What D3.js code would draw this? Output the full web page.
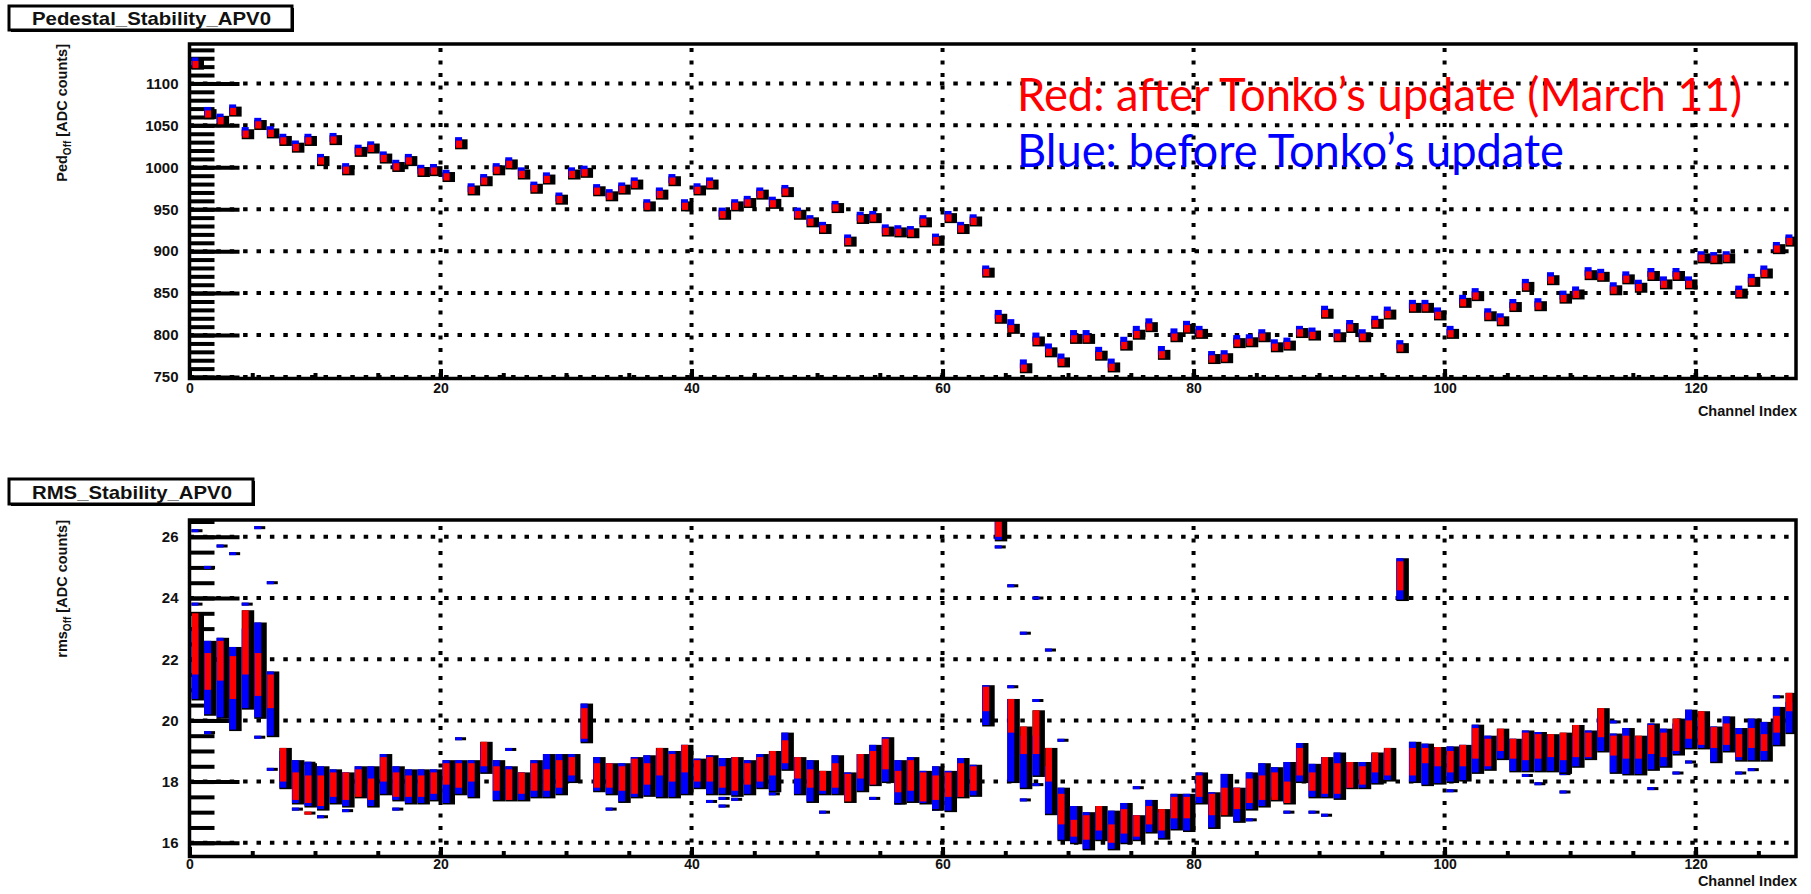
<!DOCTYPE html>
<html><head><meta charset="utf-8">
<script src="https://cdn.jsdelivr.net/npm/d3@7/dist/d3.min.js"></script>
<style>body{margin:0;background:#fff}svg{display:block}</style>
</head><body>
<svg id="c" width="1811" height="894"></svg>
<script>
// ---------------- DATA ----------------
const nChannels = 128;
const xTickValues = [0, 20, 40, 60, 80, 100, 120];
const pedTickValues = [750, 800, 850, 900, 950, 1000, 1050, 1100];
const rmsTickValues = [16, 18, 20, 22, 24, 26];

// Pedestal (after update, red) per channel 0..127
const pedAfter = [1123,1064,1056,1067,1040,1051,1041,1032,1024,1032,1008,1033,997,1019,1023,1011,1001,1008,995,996,
  989,1028,973,984,997,1004,992,975,986,962,992,994,972,966,974,980,954,968,984,954,
  973,980,944,954,958,968,957,971,944,935,927,952,912,939,940,924,923,922,935,913,
  940,927,936,875,820,808,761,793,780,768,796,796,776,762,788,801,810,777,798,808,
  802,772,773,791,792,798,786,788,803,800,826,798,809,798,814,825,785,833,833,824,
  802,839,847,823,817,834,858,835,866,844,849,872,870,854,867,857,871,861,871,861,
  892,891,892,850,864,874,903,912];
// Pedestal (before update, blue) per channel
const pedBefore = [1125,1066,1058,1069,1042,1053,1043,1034,1026,1034,1010,1035,999,1021,1025,1013,1003,1010,997,998,
  991,1030,975,986,999,1006,994,977,988,964,994,996,974,968,976,982,956,970,986,956,
  975,982,946,956,960,970,959,973,946,937,929,954,914,941,942,926,925,924,937,915,
  942,929,938,877,824,813,765,797,784,772,800,800,780,766,792,805,814,781,802,811,
  805,775,776,794,795,801,789,791,805,803,829,801,812,801,817,828,788,836,836,827,
  805,842,850,826,820,837,861,838,869,847,852,875,873,857,870,860,874,864,874,864,
  894,893,894,853,867,877,905,914];

// RMS ranges per channel (red = after, blue = before)
const rmsAfterLo  = [21.5,21.0,21.3,20.7,21.5,20.8,20.4,18.0,17.4,17.3,17.2,17.5,17.4,17.5,17.4,18.0,17.5,17.5,17.5,17.6,
  17.9,17.8,18.0,18.5,17.7,17.4,17.6,17.7,17.7,17.8,18.2,19.4,17.8,17.8,17.7,17.6,17.9,18.2,18.0,18.3,
  18.0,18.0,17.8,17.7,17.9,18.0,18.2,18.6,18.1,17.8,17.7,17.8,17.35,18.1,17.9,18.4,17.65,17.7,17.35,17.4,
  17.5,17.5,17.7,20.3,26.0,19.6,18.9,18.9,18.0,16.6,16.2,16.1,16.4,16.0,16.3,16.2,16.6,16.4,16.8,16.8,
  17.5,16.9,16.9,17.1,17.3,17.4,17.4,17.3,18.2,17.7,17.6,17.6,17.8,17.9,18.3,18.2,24.25,18.2,18.6,18.5,
  18.3,18.5,18.75,18.5,19.0,18.75,18.7,18.75,18.8,18.7,18.8,18.8,19.45,18.85,18.75,18.75,18.9,18.8,19.0,19.4,
  19.2,19.1,19.2,18.8,19.1,19.0,19.6,20.3];
const rmsAfterHi  = [23.5,22.2,22.6,22.1,23.6,22.2,21.5,19.1,18.3,18.2,18.2,18.3,18.3,18.4,18.1,18.8,18.3,18.2,18.2,18.3,
  18.6,18.6,18.6,19.3,18.5,18.4,18.3,18.6,18.4,18.7,18.8,20.4,18.6,18.6,18.5,18.75,18.6,19.1,18.9,19.2,
  18.7,18.8,18.5,18.8,18.6,18.8,19.0,19.35,18.8,18.4,18.35,18.6,18.25,18.9,19.0,19.4,18.35,18.7,18.3,18.2,
  18.3,18.6,18.5,21.1,26.6,20.7,19.8,20.33,19.1,17.6,16.75,16.9,17.2,16.6,17.1,16.9,17.2,17.1,17.5,17.5,
  18.2,17.6,17.8,17.8,18.1,18.2,18.3,18.0,19.1,18.3,18.8,18.6,18.64,18.5,18.95,19.1,25.2,19.1,19.1,19.13,
  19.0,19.2,19.75,19.4,19.73,19.4,19.6,19.55,19.55,19.6,19.85,19.6,20.4,19.5,19.5,19.5,19.85,19.6,20.06,20.0,
  20.3,19.78,19.9,19.55,19.75,19.55,20.15,20.9];
const rmsBeforeLo = [20.7,20.2,20.1,19.7,20.4,20.1,19.5,17.8,17.3,17.2,17.1,17.3,17.2,17.6,17.2,17.6,17.4,17.3,17.3,17.4,
  17.3,17.6,17.5,18.3,17.4,17.4,17.4,17.5,17.5,17.6,18.0,19.3,17.7,17.6,17.35,17.5,17.55,17.5,17.5,17.6,
  17.8,17.6,17.6,17.55,17.6,17.8,17.7,18.4,17.6,17.35,17.6,17.6,17.4,17.7,17.9,18.0,17.3,17.35,17.3,17.1,
  17.05,17.5,17.55,19.85,25.9,18.0,17.8,18.2,16.95,16.1,16.0,15.8,16.1,15.8,16.0,16.1,16.35,16.15,16.45,16.4,
  17.3,16.5,17.0,16.7,17.1,17.2,17.5,17.3,18.0,17.5,17.5,17.45,17.8,17.8,17.95,18.05,23.95,18.0,17.9,17.95,
  18.0,18.05,18.3,18.4,18.75,18.35,18.35,18.35,18.35,18.3,18.5,18.75,19.0,18.3,18.25,18.25,18.4,18.5,18.9,19.1,
  19.1,18.65,19.0,18.7,18.7,18.7,19.2,19.6];
const rmsBeforeHi = [23.0,22.6,22.7,22.4,23.0,23.2,21.6,19.0,18.7,18.6,18.5,18.4,18.3,18.5,18.5,18.9,18.5,18.4,18.4,18.4,
  18.7,18.7,18.7,19.2,18.7,18.5,18.3,18.7,18.9,18.9,18.9,20.55,18.8,18.6,18.6,18.8,18.86,19.0,19.0,19.2,
  18.75,18.86,18.77,18.8,18.7,18.9,18.9,19.6,18.8,18.7,18.3,18.86,18.3,18.9,19.2,19.45,18.7,18.8,18.35,18.5,
  18.35,18.77,18.55,21.15,26.6,20.7,19.5,19.5,18.5,17.8,17.2,17.0,17.0,17.05,17.3,16.9,17.4,17.0,17.6,17.6,
  18.3,17.65,18.25,17.8,18.3,18.6,18.47,18.64,19.26,18.58,18.8,18.95,18.6,18.64,18.9,19.0,25.3,19.3,19.24,19.1,
  19.15,19.2,19.86,19.5,19.5,19.4,19.67,19.62,19.5,19.5,19.5,19.67,20.1,19.57,19.75,19.45,19.9,19.73,19.9,20.35,
  20.0,19.8,20.13,19.75,20.06,19.95,20.44,20.6];

// isolated RMS entries (before update, blue) : channel / value
const outlierChannel = [0,0,1,1,2,3,4,5,5,6,6,8,9,10,12,16,21,25,33,41,42,42,43,46,50,54,56,59,
  64,65,65,66,66,67,67,67,68,69,75,84,87,89,90,100,106,107,109,109,113,116,118,119,123,124,126];
const outlierValue = [26.2,23.8,25.0,19.6,25.7,25.45,23.8,26.3,19.45,24.5,18.4,17.1,18.6,16.85,17.05,17.1,19.4,19.05,17.1,17.35,17.45,17.2,17.42,17.6,17.0,17.45,17.3,17.1,
  25.67,24.4,21.1,22.85,17.4,24.0,20.65,17.9,22.3,19.35,17.8,16.75,17.0,17.0,16.9,17.7,18.2,17.93,18.26,17.66,19.95,17.77,18.28,18.64,18.28,18.39,20.77];
// isolated RMS entries (after update, red)
const outlierRedChannel = [9];
const outlierRedValue = [16.97];

// ---------------- DRAWING ----------------
const svg = d3.select('#c');
const RED = '#ff0000', BLUE = '#0000ff', BLACK = '#000';
const FONT = '"Liberation Sans", Arial, Helvetica, sans-serif';

const x = d3.scaleLinear().domain([0, nChannels]).range([189.5, 1796]);
const yPed = d3.scaleLinear().domain([750, 1147]).range([377, 44]);
const yRms = d3.scaleLinear().domain([15.6, 26.55]).range([855, 520]);

function frame(y, yMajor, yMinorStep, cls, xLabelPad, titleText, titleBox, yTitleParts, xTitleBaseline) {
  const g = svg.append('g');
  const [yb, yt] = y.range();
  const clipId = 'clip' + cls;
  svg.append('clipPath').attr('id', clipId).append('rect')
    .attr('x', x(0)).attr('y', yt).attr('width', x(nChannels) - x(0)).attr('height', yb - yt);

  // grid lines (dotted)
  g.selectAll('line.hg').data(yMajor).join('line')
    .attr('x1', x(0)).attr('x2', x(nChannels)).attr('y1', d => y(d)).attr('y2', d => y(d))
    .attr('stroke', BLACK).attr('stroke-width', 4).attr('stroke-dasharray', '4.5,8.9');
  g.selectAll('line.vg').data(xTickValues.filter(d => d > 0)).join('line')
    .attr('x1', d => x(d)).attr('x2', d => x(d)).attr('y1', yb).attr('y2', yt)
    .attr('stroke', BLACK).attr('stroke-width', 4).attr('stroke-dasharray', '4,8.5');

  // y minor ticks
  const dom = y.domain();
  const minorVals = d3.range(Math.ceil(dom[0] / yMinorStep) * yMinorStep, dom[1] + 1e-9, yMinorStep);
  const axMinor = d3.axisLeft(y).tickValues(minorVals).tickSize(-25).tickFormat('');
  const gm = svg.append('g').attr('transform', `translate(${x(0)},0)`).call(axMinor);
  gm.select('.domain').remove();
  gm.selectAll('line').attr('stroke-width', 4).attr('stroke', BLACK);
  const axMajor = d3.axisLeft(y).tickValues(yMajor).tickSize(-50).tickPadding(11).tickFormat(d3.format('d'));
  const gM = svg.append('g').attr('transform', `translate(${x(0)},0)`).call(axMajor);
  gM.select('.domain').remove();
  gM.selectAll('line').attr('stroke-width', 4).attr('stroke', BLACK);
  gM.selectAll('text').attr('font-family', FONT).attr('font-weight', 'bold').attr('font-size', 15).attr('fill', '#111');

  // x ticks
  const xMinor = d3.range(0, nChannels + 1, 5);
  const axXMinor = d3.axisBottom(x).tickValues(xMinor).tickSize(-4).tickFormat('');
  const gxm = svg.append('g').attr('transform', `translate(0,${yb})`).call(axXMinor);
  gxm.select('.domain').remove();
  gxm.selectAll('line').attr('stroke-width', 4).attr('stroke', BLACK);
  const axX = d3.axisBottom(x).tickValues(xTickValues).tickSize(-8).tickPadding(xLabelPad).tickFormat(d3.format('d'));
  const gx = svg.append('g').attr('transform', `translate(0,${yb})`).call(axX);
  gx.select('.domain').remove();
  gx.selectAll('line').attr('stroke-width', 4).attr('stroke', BLACK);
  gx.selectAll('text').attr('font-family', FONT).attr('font-weight', 'bold').attr('font-size', 14).attr('fill', '#111');

  // x title
  svg.append('text').attr('x', 1797).attr('y', xTitleBaseline).attr('text-anchor', 'end')
    .attr('font-family', FONT).attr('font-weight', 'bold').attr('font-size', 14.5).attr('fill', '#111')
    .text('Channel Index');

  // y title
  const yt_ = svg.append('text').attr('transform', `translate(67,${yt}) rotate(-90)`).attr('text-anchor', 'end')
    .attr('font-family', FONT).attr('font-weight', 'bold').attr('font-size', 14.5).attr('fill', '#111');
  yt_.append('tspan').text(yTitleParts[0]);
  yt_.append('tspan').attr('font-size', 10).attr('dy', 4).text('Off');
  yt_.append('tspan').attr('dy', -4).text(' [ADC counts]');

  // title box
  const [bx, by, bw, bh] = titleBox;
  svg.append('rect').attr('x', bx + 2).attr('y', by + 2).attr('width', bw).attr('height', bh).attr('fill', BLACK);
  svg.append('rect').attr('x', bx).attr('y', by).attr('width', bw).attr('height', bh)
    .attr('fill', '#fff').attr('stroke', BLACK).attr('stroke-width', 3);
  const tt = svg.append('text').attr('x', bx + bw / 2 + 1).attr('y', by + bh / 2 + 7).attr('text-anchor', 'middle')
    .attr('font-family', FONT).attr('font-weight', 'bold').attr('font-size', 19).attr('fill', '#111').text(titleText);
  tt.attr('textLength', bw - 44).attr('lengthAdjust', 'spacingAndGlyphs');

  return {g, clipId, yb, yt};
}

function drawFrameBorder(yb, yt) {
  svg.append('rect').attr('x', x(0)).attr('y', yt).attr('width', x(nChannels) - x(0)).attr('height', yb - yt + 1.5)
    .attr('fill', 'none').attr('stroke', BLACK).attr('stroke-width', 3.5);
}

// ---- Top panel ----
const P1 = frame(yPed, pedTickValues, 10, 'ped', 6, 'Pedestal_Stability_APV0', [9, 6, 283, 24], ['Ped'], 416);
const m1 = svg.append('g').attr('clip-path', `url(#${P1.clipId})`);
const chans = d3.range(nChannels);
m1.selectAll('rect.k').data(chans).join('rect')
  .attr('x', c => x(c) + 2).attr('width', 12.5)
  .attr('y', c => yPed(pedAfter[c]) - 4.5).attr('height', 10).attr('fill', BLACK);
m1.selectAll('rect.b').data(chans).join('rect')
  .attr('x', c => x(c) + 2).attr('width', 7)
  .attr('y', c => yPed(pedBefore[c]) - 5).attr('height', 9).attr('fill', BLUE);
m1.selectAll('rect.r').data(chans).join('rect')
  .attr('x', c => x(c) + 3).attr('width', 6)
  .attr('y', c => yPed(pedAfter[c]) - 3.2).attr('height', 7.2).attr('fill', RED);
drawFrameBorder(P1.yb, P1.yt);

// ---- Bottom panel ----
const P2 = frame(yRms, rmsTickValues, 0.5, 'rms', 4, 'RMS_Stability_APV0', [9, 479, 244, 25], ['rms'], 886);
const m2 = svg.append('g').attr('clip-path', `url(#${P2.clipId})`);
// isolated entries
m2.selectAll('rect.ok').data(outlierChannel).join('rect')
  .attr('x', (c) => x(c) + 2).attr('width', 11)
  .attr('y', (c, i) => yRms(outlierValue[i]) - 1.5).attr('height', 3).attr('fill', BLACK);
m2.selectAll('rect.ob').data(outlierChannel).join('rect')
  .attr('x', (c) => x(c) + 2).attr('width', 7)
  .attr('y', (c, i) => yRms(outlierValue[i]) - 1.5).attr('height', 3).attr('fill', BLUE);
m2.selectAll('rect.okr').data(outlierRedChannel).join('rect')
  .attr('x', (c) => x(c) + 2).attr('width', 11)
  .attr('y', (c, i) => yRms(outlierRedValue[i]) - 1.5).attr('height', 3).attr('fill', BLACK);
m2.selectAll('rect.or').data(outlierRedChannel).join('rect')
  .attr('x', (c) => x(c) + 2).attr('width', 7)
  .attr('y', (c, i) => yRms(outlierRedValue[i]) - 1.5).attr('height', 3).attr('fill', RED);
// bars
m2.selectAll('rect.k').data(chans).join('rect')
  .attr('x', c => x(c) + 2).attr('width', 12.5)
  .attr('y', c => yRms(Math.max(rmsAfterHi[c], rmsBeforeHi[c])))
  .attr('height', c => yRms(Math.min(rmsAfterLo[c], rmsBeforeLo[c])) - yRms(Math.max(rmsAfterHi[c], rmsBeforeHi[c])) + 1.5)
  .attr('fill', BLACK);
m2.selectAll('rect.b').data(chans).join('rect')
  .attr('x', c => x(c) + 2).attr('width', 7)
  .attr('y', c => yRms(rmsBeforeHi[c]))
  .attr('height', c => yRms(rmsBeforeLo[c]) - yRms(rmsBeforeHi[c]))
  .attr('fill', BLUE);
m2.selectAll('rect.r').data(chans).join('rect')
  .attr('x', c => x(c) + 2.5).attr('width', 6.5)
  .attr('y', c => yRms(rmsAfterHi[c]))
  .attr('height', c => yRms(rmsAfterLo[c]) - yRms(rmsAfterHi[c]))
  .attr('fill', RED);
drawFrameBorder(P2.yb, P2.yt);

// ---- Annotations ----
function fitText(txt, color, x0, baseline, width) {
  svg.append('text').attr('x', x0).attr('y', baseline)
    .attr('font-family', 'Lato, "Open Sans", sans-serif').attr('font-size', 46).attr('fill', color)
    .attr('textLength', width).attr('lengthAdjust', 'spacingAndGlyphs').text(txt);
}
fitText('Red: after Tonko\u2019s update (March 11)', RED, 1017, 111, 725);
fitText('Blue: before Tonko\u2019s update', BLUE, 1017, 167, 547);
</script>
</body></html>
